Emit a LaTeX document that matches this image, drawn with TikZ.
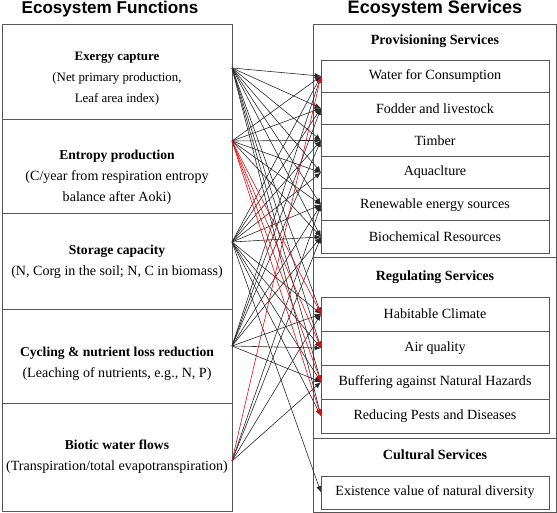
\documentclass[tikz,border=0pt]{standalone}
\usepackage{fontspec}
\setmainfont{Liberation Serif}
\newfontfamily\headfont{Liberation Sans}
\usepackage{tikz}
\usetikzlibrary{arrows.meta, positioning}
\definecolor{boxgray}{RGB}{85, 85, 85}
\definecolor{linkred}{RGB}{230, 10, 10}

\tikzset{
  funcbox/.style={draw=boxgray, line width=0.6pt, minimum width=69mm, inner sep=0pt, outer sep=0pt},
  functext/.style={align=center, font=\fontsize{12}{18}\selectfont},
  groupbox/.style={draw=boxgray, line width=0.6pt, minimum width=72.9mm, inner sep=0pt, outer sep=0pt},
  svcbox/.style={draw=boxgray, line width=0.6pt, minimum width=68.4mm, inner sep=0pt, outer sep=0pt, font=\fontsize{12}{14}\selectfont},
  grouptitle/.style={font=\fontsize{12}{14}\selectfont\bfseries},
  heading/.style={font=\headfont\bfseries\fontsize{14.6}{17}\selectfont},
  link/.style={draw=black!85, line width=0.5pt, -{Latex[length=1.9mm,width=1.5mm]}},
  redlink/.style={link, draw=linkred},
}
\newcommand{\fhead}[1]{{\fontsize{11.6}{18}\selectfont\bfseries #1}}

\begin{document}
\begin{tikzpicture}[x=0.3mm, y=-0.3mm]
    \useasboundingbox (0,0) rectangle (557,513);

    % --- Headings ---
    \node[heading] (funchead) at (110,9) {Ecosystem Functions};
    \node[heading, font=\headfont\bfseries\fontsize{15.4}{17}\selectfont] (svchead) at (435,8.5) {Ecosystem Services};

    % --- Ecosystem functions (left column) ---
    \node[funcbox, minimum height=28.5mm] (exergy) at (117,71.5) {};
    \node[functext, font=\fontsize{11}{18}\selectfont] (exergytxt) at (117,79) {\textbf{Exergy capture}\\(Net primary production,\\Leaf area index)};
    \node[funcbox, minimum height=28.2mm] (entropy) at (117,166) {};
    \node[functext] (entropytxt) at (117,177) {\fhead{Entropy production}\\(C/year from respiration entropy\\balance after Aoki)};
    \node[funcbox, minimum height=28.8mm] (storage) at (117,261) {};
    \node[functext] (storagetxt) at (117,262) {\fhead{Storage capacity}\\(N, Corg in the soil; N, C in biomass)};
    \node[funcbox, minimum height=28.2mm] (cycling) at (117,356) {};
    \node[functext] (cyclingtxt) at (117,363.5) {\fhead{Cycling \& nutrient loss reduction}\\(Leaching of nutrients, e.g., N, P)};
    \node[funcbox, minimum height=32.4mm] (biotic) at (117,457) {};
    \node[functext] (biotictxt) at (117,456.5) {\fhead{Biotic water flows}\\(Transpiration/total evapotranspiration)};

    % Ausgangspunkte der Pfeile
    \coordinate (exergy-out) at (232,68);
    \coordinate (entropy-out) at (232,141);
    \coordinate (storage-out) at (232,242);
    \coordinate (cycling-out) at (232,346);
    \coordinate (biotic-out) at (232,461);

    % --- Ecosystem services (right column) ---
    \node[groupbox, minimum height=69.9mm] (prov) at (434.5,140.5) {};
    \node[grouptitle] (provtitle) at (435,41) {Provisioning Services};
    \node[svcbox, minimum height=9.65mm] (water) at (435,76.1) {Water for Consumption};
    \node[svcbox, minimum height=9.65mm] (fodder) at (435,108.25) {Fodder and livestock};
    \node[svcbox, minimum height=9.65mm] (timber) at (435,140.4) {Timber};
    \node[svcbox, minimum height=9.65mm] (aqua) at (435,172.6) {Aquaclture};
    \node[svcbox, minimum height=9.65mm] (renew) at (435,204.75) {Renewable energy sources};
    \node[svcbox, minimum height=9.65mm] (biochem) at (435,236.9) {Biochemical Resources};

    \node[groupbox, minimum height=54.3mm] (reg) at (434.5,347.5) {};
    \node[grouptitle] (regtitle) at (435,277) {Regulating Services};
    \node[svcbox, minimum height=10.2mm] (habit) at (435,314) {Habitable Climate};
    \node[svcbox, minimum height=10.2mm] (air) at (435,348) {Air quality};
    \node[svcbox, minimum height=10.2mm] (buffer) at (435,382) {Buffering against Natural Hazards};
    \node[svcbox, minimum height=10.2mm] (pests) at (435,416) {Reducing Pests and Diseases};

    \node[groupbox, minimum height=22.2mm] (cult) at (434.5,475) {};
    \node[grouptitle] (culttitle) at (435,455) {Cultural Services};
    \node[svcbox, minimum height=9.9mm] (exist) at (435,492.5) {Existence value of natural diversity};

    % --- Links ---
    \foreach \s in {water,fodder,timber,aqua,renew,biochem,habit,air,buffer,pests}
        \draw[link] (exergy-out) -- (\s.west);
    \foreach \s in {water,fodder,timber,aqua,renew,biochem}
        \draw[link] (entropy-out) -- (\s.west);
    \foreach \s in {water,fodder,timber,aqua,renew,biochem,habit,air,buffer,pests,exist}
        \draw[link] (storage-out) -- (\s.west);
    \foreach \s in {water,fodder,timber,renew,biochem,habit,air,buffer}
        \draw[link] (cycling-out) -- (\s.west);
    \foreach \s in {renew,biochem,habit,buffer}
        \draw[link] (biotic-out) -- (\s.west);
    % rote Verbindungen
    \foreach \s in {habit,air,buffer,pests}
        \draw[redlink] (entropy-out) -- (\s.west);
    \draw[redlink] (biotic-out) -- (water.west);
\end{tikzpicture}
\end{document}
